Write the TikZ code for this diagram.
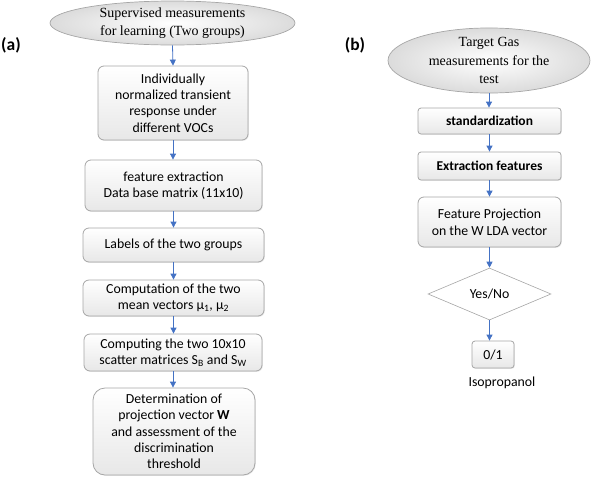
\documentclass[tikz,border=0pt]{standalone}
\usepackage{fontspec}
\setmainfont{Carlito}
\newfontfamily\seriffont{Liberation Serif}
\usetikzlibrary{shapes.geometric,arrows.meta,shadows}
\definecolor{arrowblue}{HTML}{4472C4}
\definecolor{boxline}{HTML}{A6A6A6}
\definecolor{boxfill}{HTML}{F3F3F3}
\tikzset{
  stepbox/.style={draw=boxline, line width=0.8pt, rounded corners=6pt, top color=white, bottom color=boxfill!90!gray,
    align=center, inner sep=0pt, font=\fontsize{13.8}{16.3}\selectfont,
    drop shadow={opacity=0.18, shadow xshift=0.8pt, shadow yshift=-0.8pt}},
  startell/.style={ellipse, draw=boxline, line width=0.7pt, shading=radial, inner color=white, outer color=gray!28,
    align=center, inner sep=0pt, font=\seriffont\fontsize{14}{18.3}\selectfont},
  flow/.style={draw=arrowblue, line width=0.8pt, -{Triangle[length=6pt,width=6pt]}},
  panel/.style={font=\bfseries\fontsize{17.5}{20}\selectfont, inner sep=0pt}
}
\begin{document}
\begin{tikzpicture}[x=1pt,y=-1pt]
\useasboundingbox (0,0) rectangle (591,477);
% (a)
\node[panel] (la) at (11,45) {(a)};
\node[startell, minimum width=245pt, minimum height=44pt] (e1) at (172.5,23)
  {Supervised measurements\\for learning (Two groups)};
\node[stepbox, minimum width=150pt, minimum height=74pt] (b1) at (173,103)
  {Individually\\normalized transient\\response under\\different VOCs};
\node[stepbox, minimum width=177pt, minimum height=51pt] (b2) at (173.5,185.5)
  {feature extraction\\Data base matrix (11x10)};
\node[stepbox, minimum width=181pt, minimum height=34pt] (b3) at (173.5,245)
  {Labels of the two groups};
\node[stepbox, minimum width=181pt, minimum height=36pt] (b4) at (173.5,298)
  {Computation of the two\\mean vectors μ\textsubscript{1}, μ\textsubscript{2}};
\node[stepbox, minimum width=178pt, minimum height=37pt] (b5) at (173,352.5)
  {Computing the two 10x10\\scatter matrices S\textsubscript{B} and S\textsubscript{W}};
\node[stepbox, rounded corners=12pt, minimum width=162pt, minimum height=87pt] (b6) at (174,431.5)
  {Determination of\\projection vector \textbf{W}\\and assessment of the\\discrimination\\threshold};
\draw[flow] (e1.south) -- (b1.north);
\draw[flow] (b1.south) -- (b1.south |- b2.north);
\draw[flow] (b2.south) -- (b2.south |- b3.north);
\draw[flow] (b3.south) -- (b3.south |- b4.north);
\draw[flow] (b4.south) -- (b4.south |- b5.north);
\draw[flow] (b5.south) -- (b5.south |- b6.north);
% (b)
\node[panel] (lb) at (355,45) {(b)};
\node[startell, minimum width=202pt, minimum height=57pt] (e2) at (489,60.5)
  {Target Gas\\measurements for the\\test};
\node[stepbox, rounded corners=3pt, minimum width=143pt, minimum height=26pt, font=\bfseries\fontsize{13.5}{16}\selectfont] (r1) at (489.5,121)
  {standardization};
\node[stepbox, rounded corners=3pt, minimum width=143pt, minimum height=28pt, font=\bfseries\fontsize{13.5}{16}\selectfont] (r2) at (489.5,166)
  {Extraction features};
\node[stepbox, minimum width=143pt, minimum height=50pt, font=\fontsize{13.8}{17}\selectfont] (r3) at (489.5,222)
  {Feature Projection\\on the W LDA vector};
\node[diamond, draw=boxline, line width=0.6pt, fill=white, minimum width=123pt, minimum height=52pt, inner sep=0pt,
  font=\fontsize{13.8}{16}\selectfont] (d) at (489.5,294) {Yes/No};
\node[stepbox, rounded corners=3pt, minimum width=42pt, minimum height=27pt] (r4) at (493,354.5) {0/1};
\node[font=\fontsize{13.8}{16}\selectfont, inner sep=0pt] (iso) at (502,383) {Isopropanol};
\draw[flow] (e2.south) -- (e2.south |- r1.north);
\draw[flow] (r1.south) -- (r1.south |- r2.north);
\draw[flow] (r2.south) -- (r2.south |- r3.north);
\draw[flow] (r3.south) -- (r3.south |- d.north);
\draw[flow] (d.south) -- (d.south |- r4.north);
\end{tikzpicture}
\end{document}
